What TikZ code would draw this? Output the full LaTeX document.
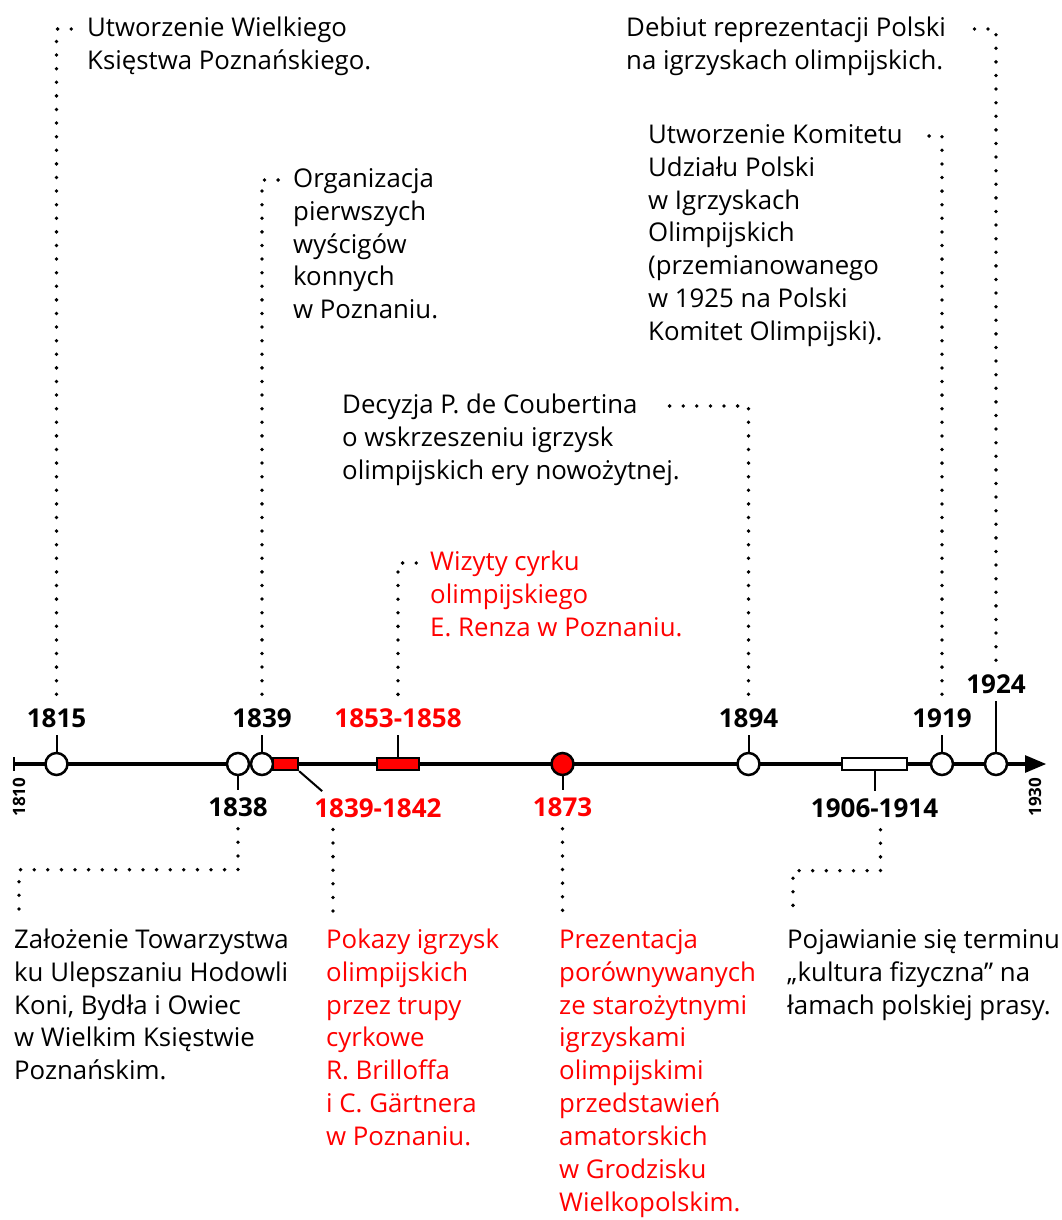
\documentclass[tikz,border=0pt]{standalone}
\usepackage{fontspec}
\setmainfont{Open Sans}
\usetikzlibrary{positioning,arrows}
\tikzset{
  event/.style={ % circle for a single year on the axis
    circle, draw, line width=2.5pt, fill=white,
    minimum size=22pt, inner sep=0pt
  },
  span/.style={ % bar for a range of years
    rectangle, draw, line width=2.3pt, fill=white,
    minimum height=12pt, inner sep=0pt
  },
  year/.style={ % bold year label
    font=\fontsize{26}{28}\selectfont\bfseries,
    inner xsep=2pt, inner ysep=7pt
  },
  note/.style={ % description next to a dotted line
    font=\fontsize{25.8}{32.9}\selectfont, align=left,
    anchor=north west, inner sep=0pt
  },
  tick/.style={line width=2pt},
  dots/.style={
    line width=3.8pt, line cap=round, dash pattern=on 0pt off 13.6pt
  },
  axis/.style={line width=4pt, -triangle 45}
}
\begin{document}
\begin{tikzpicture}[x=1pt, y=-1pt]
  \useasboundingbox[fill=white] (0,0) rectangle (1062,1220);

  % time axis
  \coordinate (start) at (14,764);
  \coordinate (end) at (1046,764);
  \draw[axis] (start) -- (end);
  \draw[tick] ([yshift=7pt]start) -- ([yshift=-7pt]start);
  \node[font=\fontsize{17}{17}\selectfont\bfseries, rotate=90] (l1810) at (19,797) {1810};
  \node[font=\fontsize{17}{17}\selectfont\bfseries, rotate=90] (l1930) at (1035,797) {1930};

  % markers
  \node[event] (e1815) at (56.5,764) {};
  \node[event] (e1838) at (238,764) {};
  \node[event] (e1839) at (262,764) {};
  \node[span, fill=red, minimum width=25pt] (p1839) at (285.5,764) {};
  \node[span, fill=red, minimum width=42pt] (p1853) at (398,764) {};
  \node[event, fill=red] (e1873) at (562.5,764) {};
  \node[event] (e1894) at (748.5,764) {};
  \node[span, minimum width=65pt] (p1906) at (874.5,764) {};
  \node[event] (e1919) at (942,764) {};
  \node[event] (e1924) at (996,764) {};

  % years
  \node[year, above=17pt of e1815] (y1815) {1815};
  \node[year, below=14pt of e1838] (y1838) {1838};
  \node[year, above=17pt of e1839] (y1839) {1839};
  \node[year, text=red, below right=20pt and 13pt of p1839.south east] (y1842) {1839-1842};
  \node[year, text=red, above=22pt of p1853] (y1853) {1853-1858};
  \node[year, text=red, below=14pt of e1873] (y1873) {1873};
  \node[year, above=17pt of e1894] (y1894) {1894};
  \node[year, below=20pt of p1906] (y1906) {1906-1914};
  \node[year, above=17pt of e1919] (y1919) {1919};
  \node[year, above=51pt of e1924] (y1924) {1924};

  \draw[tick] (e1815) -- (y1815);
  \draw[tick] (e1838) -- (y1838);
  \draw[tick] (e1839) -- (y1839);
  \draw[tick] (p1839.south east) -- ([xshift=10pt]y1842.north west);
  \draw[tick] (p1853) -- (y1853);
  \draw[tick] (e1873) -- (y1873);
  \draw[tick] (e1894) -- (y1894);
  \draw[tick] (p1906) -- (y1906);
  \draw[tick] (e1919) -- (y1919);
  \draw[tick] (e1924) -- (y1924);

  % descriptions above the axis
  \node[note] (t1815) at (87,13) {\strut Utworzenie Wielkiego\\Księstwa Poznańskiego.};
  \node[note] (t1839) at (293,164) {\strut Organizacja\\pierwszych\\wyścigów\\konnych\\w Poznaniu.};
  \node[note, text=red] (t1853) at (430,547) {\strut Wizyty cyrku\\olimpijskiego\\E. Renza w Poznaniu.};
  \node[note] (t1894) at (342,390) {\strut Decyzja P. de Coubertina\\o wskrzeszeniu igrzysk\\olimpijskich ery nowożytnej.};
  \node[note] (t1919) at (648,120) {\strut Utworzenie Komitetu\\Udziału Polski\\w Igrzyskach\\Olimpijskich\\(przemianowanego\\w 1925 na Polski\\Komitet Olimpijski).};
  \node[note] (t1924) at (626,13) {\strut Debiut reprezentacji Polski\\na igrzyskach olimpijskich.};

  % descriptions below the axis
  \node[note] (t1838) at (14,925) {\strut Założenie Towarzystwa\\ku Ulepszaniu Hodowli\\Koni, Bydła i Owiec\\w Wielkim Księstwie\\Poznańskim.};
  \node[note, text=red] (t1842) at (326,925) {\strut Pokazy igrzysk\\olimpijskich\\przez trupy\\cyrkowe\\R. Brilloffa\\i C. Gärtnera\\w Poznaniu.};
  \node[note, text=red] (t1873) at (559,925) {\strut Prezentacja\\porównywanych\\ze starożytnymi\\igrzyskami\\olimpijskimi\\przedstawień\\amatorskich\\w Grodzisku\\Wielkopolskim.};
  \node[note] (t1906) at (787,925) {\strut Pojawianie się terminu\\„kultura fizyczna” na\\łamach polskiej prasy.};

  % dotted leaders
  \draw[dots] ([yshift=7pt]y1815.north) |- ([xshift=-15pt,yshift=-16pt]t1815.north west);
  \draw[dots] ([yshift=7pt]y1839.north) |- ([xshift=-13pt,yshift=-16pt]t1839.north west);
  \draw[dots] ([yshift=7pt]y1853.north) |- ([xshift=-13pt,yshift=-16pt]t1853.north west);
  \draw[dots] ([yshift=7pt]y1894.north) |- ([xshift=316pt,yshift=-16pt]t1894.north west);
  \draw[dots] ([yshift=7pt]y1919.north) |- ([xshift=269pt,yshift=-16pt]t1919.north west);
  \draw[dots] ([yshift=7pt]y1924.north) |- ([xshift=341pt,yshift=-16pt]t1924.north west);
  \draw[dots] ([yshift=-5pt]y1838.south) -- ++(0,41) -| ([xshift=5pt,yshift=14pt]t1838.north west);
  \draw[dots] ([xshift=7pt,yshift=14pt]t1842.north west) -- ++(0,-84);
  \draw[dots] ([yshift=-5pt]y1873.south) -- ([yshift=14pt]y1873.south |- t1873.north);
  \draw[dots] ([xshift=6pt,yshift=-5pt]y1906.south) -- ++(0,41) -| ([xshift=6pt,yshift=14pt]t1906.north west);
\end{tikzpicture}
\end{document}
